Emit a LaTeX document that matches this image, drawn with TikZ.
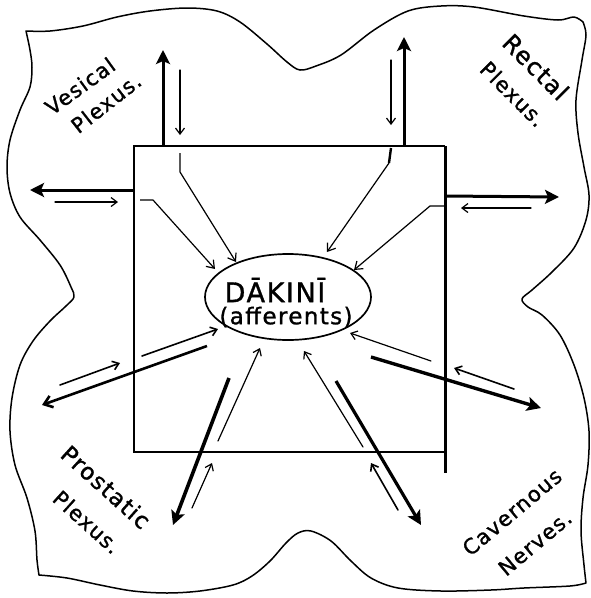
\documentclass[tikz,border=0pt]{standalone}
\usepackage{fontspec}
\newfontfamily\hand[LetterSpace=6,FakeBold=1.2]{DejaVu Sans}
\usetikzlibrary{shapes.geometric,arrows.meta}
\begin{document}
\begin{tikzpicture}[x=1pt,y=-1pt,
  thinarr/.style={line width=1.2pt,line cap=round,-{Straight Barb[length=6pt,width=9pt]}},
  thickarr/.style={line width=3pt,-{Stealth[length=14pt,width=14pt,inset=3pt]}},
  inarr/.style={line width=1.2pt,line join=round,-{Straight Barb[length=7pt,width=10pt]}},
  plexlbl/.style={font=\hand\fontsize{21}{23}\selectfont,inner sep=0pt},
  dktext/.style={font=\hand\fontsize{27}{29}\selectfont,inner sep=0pt}]
\useasboundingbox (0,0) rectangle (591,598);

% outer wavy outline
\draw[line width=1.5pt,line join=round]
  plot[smooth,tension=0.55] coordinates {(26,31) (50,31) (83,26) (117,17) (150,11) (187,8) (217,11) (240,22) (267,44) (287,62) (300,70) (316,66) (341,55) (374,30) (408,11) (441,6) (474,7) (524,16) (558,20) (574,17) (583,22)}
  -- plot[smooth,tension=0.55] coordinates {(583,22) (586,35) (582,60) (576,100) (578,133) (584,167) (589,195) (586,220) (574,248) (552,272) (532,290) (522,299) (528,307) (542,315) (560,335) (574,365) (584,398) (589,431) (588,465) (583,498) (581,531) (584,565) (586,583)}
  -- plot[smooth,tension=0.55] coordinates {(586,583) (570,586) (524,588) (491,590) (441,591) (398,588) (371,578) (351,561) (331,541) (311,531) (298,533) (286,543) (270,561) (252,576) (233,585) (200,591) (167,593) (133,591) (100,585) (67,578) (39,575)}
  -- plot[smooth,tension=0.55] coordinates {(39,575) (37,560) (35,531) (27,498) (15,465) (10,431) (12,398) (20,365) (33,341) (50,321) (66,306) (74,297) (71,287) (60,265) (40,240) (20,217) (10,193) (7,167) (10,140) (20,110) (30,87) (32,67) (30,50) (26,31)}
  -- cycle;

% central square
\coordinate (bTL) at (134,146);
\coordinate (bTR) at (445,146);
\coordinate (bBR) at (445,452);
\coordinate (bBL) at (134,452);
\coordinate (bRX) at (445,473);
\draw[line width=1.6pt] (bTR) -- (bTL) -- (bBL) -- (bBR);
\draw[line width=3pt] (bTR) -- (bRX);

% DAKINI ellipse
\node[ellipse,draw,line width=1.7pt,minimum width=166pt,minimum height=86pt,inner sep=0pt] (dak) at (288,297) {};
\node[dktext] (dk1) at (275,290) {DĀKINĪ};
\node[dktext,font=\hand\fontsize{23}{25}\selectfont] (dk2) at (286,317) {(afferents)};

% corner labels
\node[plexlbl,rotate=36] (ves1) at (80,86) {Vesical};
\node[plexlbl,rotate=38] (ves2) at (106,103) {Plexus.};
\node[plexlbl,rotate=-45,font=\hand\fontsize{24}{26}\selectfont] (rec1) at (536,67) {Rectal};
\node[plexlbl,rotate=-45] (rec2) at (513,94) {Plexus.};
\node[plexlbl,rotate=-42,font=\hand\fontsize{23}{25}\selectfont] (pro1) at (106,487) {Prostatic};
\node[plexlbl,rotate=-42] (pro2) at (87,522) {Plexus.};
\node[plexlbl,rotate=40] (cav1) at (512,512) {Cavernous};
\node[plexlbl,rotate=40] (cav2) at (535,543) {Nerves.};

% ---- Vesical group
\coordinate (vu0) at (163,146); \coordinate (vu1) at (163,50);
\coordinate (vd0) at (180,70);  \coordinate (vd1) at (180,135);
\coordinate (vi0) at (180,153); \coordinate (vi1) at (180,172); \coordinate (vi2) at (236,262);
\coordinate (vl0) at (134,190); \coordinate (vl1) at (30,190);
\coordinate (vr0) at (55,202);  \coordinate (vr1) at (118,202);
\coordinate (vj0) at (140,200); \coordinate (vj1) at (153,200); \coordinate (vj2) at (215,269);
\draw[thickarr] (vu0) -- (vu1);
\draw[thinarr] (vd0) -- (vd1);
\draw[inarr] (vi0) -- (vi1) -- (vi2);
\draw[thickarr] (vl0) -- (vl1);
\draw[thinarr] (vr0) -- (vr1);
\draw[inarr] (vj0) -- (vj1) -- (vj2);

% ---- Rectal group
\coordinate (ru0) at (404,146); \coordinate (ru1) at (404,37);
\coordinate (rd0) at (391,60);  \coordinate (rd1) at (391,125);
\coordinate (ri0) at (391,148); \coordinate (ri1) at (389,163); \coordinate (ri2) at (327,252);
\coordinate (rr0) at (445,196); \coordinate (rr1) at (559,197);
\coordinate (rl0) at (531,208); \coordinate (rl1) at (461,208);
\coordinate (rj0) at (445,206); \coordinate (rj1) at (430,206); \coordinate (rj2) at (354,270);
\draw[thickarr] (ru0) -- (ru1);
\draw[thinarr] (rd0) -- (rd1);
\draw[line width=2.4pt] (ri0) -- (ri1);
\draw[inarr] (ri1) -- (ri2);
\draw[thickarr] (rr0) -- (rr1);
\draw[thinarr] (rl0) -- (rl1);
\draw[inarr] (rj0) -- (rj1) -- (rj2);

% ---- Prostatic group
\coordinate (pa0) at (207,346); \coordinate (pa1) at (42,405);
\coordinate (pb0) at (60,385);  \coordinate (pb1) at (120,363);
\coordinate (pc0) at (142,356); \coordinate (pc1) at (218,329);
\coordinate (pd0) at (229,378); \coordinate (pd1) at (173,525);
\coordinate (pe0) at (218,441); \coordinate (pe1) at (260,348);
\coordinate (pf0) at (192,508); \coordinate (pf1) at (212,463);
\draw[line width=2.6pt,-{Straight Barb[length=8pt,width=12pt]}] (pa0) -- (pa1);
\draw[thinarr,line width=1.6pt] (pb0) -- (pb1);
\draw[thinarr,line width=1.6pt] (pc0) -- (pc1);
\draw[thickarr,line width=3.6pt] (pd0) -- (pd1);
\draw[thinarr] (pe0) -- (pe1);
\draw[thinarr] (pf0) -- (pf1);

% ---- Cavernous group
\coordinate (ca0) at (371,357); \coordinate (ca1) at (541,408);
\coordinate (cb0) at (431,361); \coordinate (cb1) at (350,333);
\coordinate (cc0) at (514,389); \coordinate (cc1) at (454,368);
\coordinate (cd0) at (336,381); \coordinate (cd1) at (421,525);
\coordinate (ce0) at (363,447); \coordinate (ce1) at (304,351);
\coordinate (cf0) at (398,510); \coordinate (cf1) at (371,463);
\draw[thickarr,line width=3.4pt] (ca0) -- (ca1);
\draw[thinarr] (cb0) -- (cb1);
\draw[thinarr,line width=1.6pt] (cc0) -- (cc1);
\draw[thickarr,line width=3.2pt] (cd0) -- (cd1);
\draw[thinarr] (ce0) -- (ce1);
\draw[thinarr,line width=1.6pt] (cf0) -- (cf1);
\end{tikzpicture}
\end{document}
